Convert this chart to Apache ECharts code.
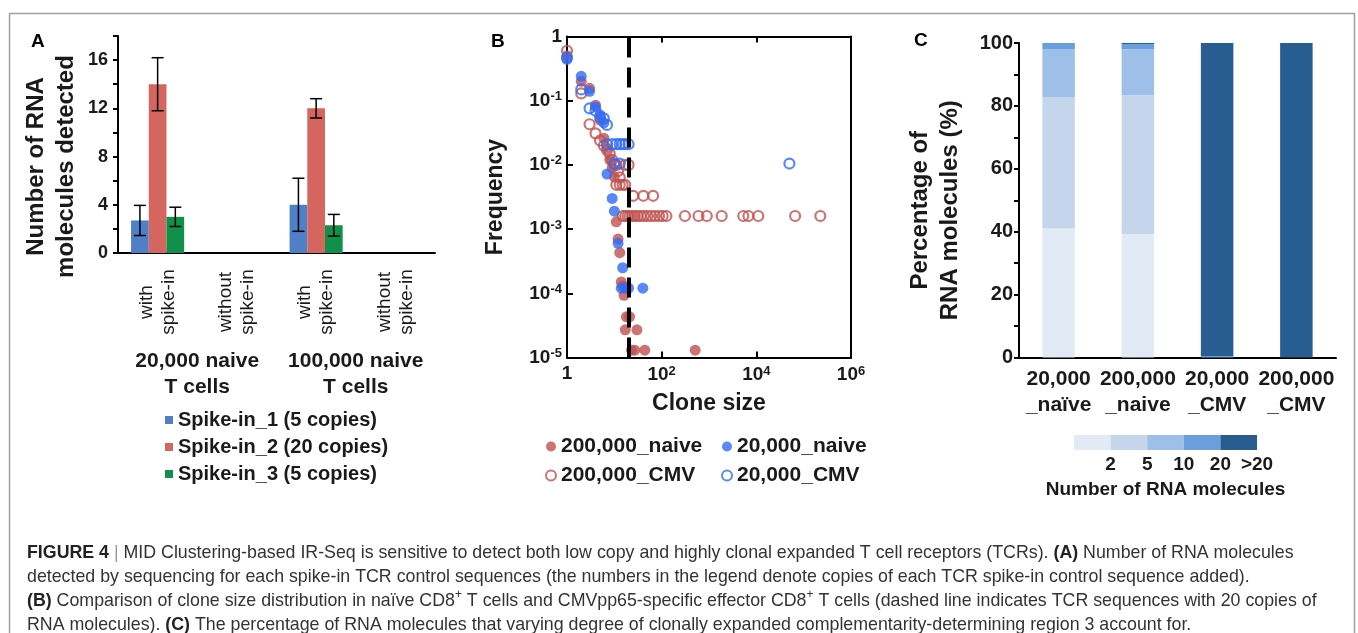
<!DOCTYPE html>
<html>
<head>
<meta charset="utf-8">
<script src="https://cdn.jsdelivr.net/npm/echarts@6/dist/echarts.min.js"></script>
<style>
html, body { margin: 0; padding: 0; background: #fff; }
#chart { width: 1358px; height: 633px; }
</style>
</head>
<body>
<div id="chart"></div>
<script>
var FONT = "'Liberation Sans', Arial, sans-serif";
var CAPTION_FONT = "'Liberation Sans Narrow', 'Liberation Sans', sans-serif";

// ---- panel A: spike-in counts ----
var spikeCats = ['with\nspike-in', 'without\nspike-in', 'with\nspike-in', 'without\nspike-in'];
var cellGroups = ['20,000 naive\nT cells', '100,000 naive\nT cells'];
var spikeNames = ['Spike-in_1 (5 copies)', 'Spike-in_2 (20 copies)', 'Spike-in_3 (5 copies)'];
var spike1 = [2.7, 0, 4.0, 0];
var spike2 = [14.0, 0, 12.0, 0];
var spike3 = [3.0, 0, 2.3, 0];
var spike1Err = [1.25, 0, 2.2, 0];
var spike2Err = [2.2, 0, 0.8, 0];
var spike3Err = [0.8, 0, 0.9, 0];
var spikeColors = ['#4f7fc6', '#d4665f', '#10904a'];

// ---- panel B: clone size vs frequency ----
var naive200 = [[1, 0.5], [2, 0.2], [3, 0.156], [4, 0.085], [5, 0.05], [6, 0.026], [7, 0.018],
  [8, 0.012], [9, 0.009], [10, 0.0065], [11, 0.0013], [12, 0.0007], [13, 0.00043], [14, 0.00015],
  [15, 0.00013], [16, 0.000093], [18, 0.000043], [21, 0.000043], [17, 0.000027], [30, 0.000027],
  [23, 0.000013], [27, 0.000013], [44, 0.000013], [510, 0.000013]];
var naive20 = [[1, 0.44], [2, 0.24], [3, 0.14], [4, 0.08], [5, 0.06], [6, 0.045], [7, 0.0072],
  [9, 0.003], [10, 0.0019], [12, 0.0006], [15, 0.00025], [14, 0.00012], [17, 0.00012],
  [20, 0.00012], [40, 0.00012]];
var cmv200 = [[1, 0.6], [2, 0.13], [3, 0.043], [4, 0.031], [5, 0.024], [6, 0.02], [7, 0.017],
  [8, 0.015], [9, 0.012], [10, 0.01], [11, 0.01], [17, 0.01], [20, 0.01], [12, 0.008],
  [13, 0.0064], [11, 0.0049], [13, 0.0049], [15, 0.0049], [17, 0.0049],
  [25, 0.0033], [41, 0.0033], [66, 0.0033],
  [15, 0.0016], [17, 0.0016], [19, 0.0016], [21, 0.0016], [24, 0.0016], [27, 0.0016],
  [31, 0.0016], [36, 0.0016], [42, 0.0016], [50, 0.0016], [60, 0.0016], [72, 0.0016],
  [88, 0.0016], [105, 0.0016], [126, 0.0016], [310, 0.0016], [600, 0.0016], [900, 0.0016],
  [1850, 0.0016], [5300, 0.0016], [6800, 0.0016], [11000, 0.0016], [66000, 0.0016],
  [225000, 0.0016]];
var cmv20 = [[1, 0.47], [2, 0.15], [3, 0.076], [4, 0.07], [5, 0.055], [6, 0.053], [7, 0.042],
  [7, 0.021], [9, 0.021], [11, 0.021], [13, 0.021], [15, 0.021], [17, 0.021], [20, 0.021],
  [10, 0.0105], [13, 0.0105], [50000, 0.0105]];
var cutoff = 20;
var cloneRed = '#c0504d';
var cloneBlue = '#2f6cf5';

// ---- panel C: percentage stacks ----
var sampleCats = ['20,000\n_naïve', '200,000\n_naive', '20,000\n_CMV', '200,000\n_CMV'];
var bins = ['2', '5', '10', '20', '>20'];
var pct2 = [41.0, 39.3, 0, 0];
var pct5 = [41.8, 44.1, 0, 0];
var pct10 = [15.3, 14.6, 0, 0];
var pct20 = [1.9, 1.6, 0.5, 0];
var pctOver20 = [0, 0.4, 99.5, 100];
var binColors = ['#e2eaf5', '#c5d6ec', '#9ec0e8', '#6a9edc', '#285d91'];

var bold = { fontFamily: FONT, fontWeight: 'bold', color: '#1a1a1a' };

function errorBars(offset) {
  return function (params, api) {
    var err = api.value(2);
    if (!err) return;
    var mid = api.value(1);
    var bw = api.size([1, 0])[0] * 0.67 / 3;
    var hi = api.coord([api.value(0), mid + err]);
    var lo = api.coord([api.value(0), mid - err]);
    var x = hi[0] + offset * bw;
    var st = { stroke: '#000', lineWidth: 1.5 };
    return {
      type: 'group',
      children: [
        { type: 'line', shape: { x1: x, y1: hi[1], x2: x, y2: lo[1] }, style: st },
        { type: 'line', shape: { x1: x - 6, y1: hi[1], x2: x + 6, y2: hi[1] }, style: st },
        { type: 'line', shape: { x1: x - 6, y1: lo[1], x2: x + 6, y2: lo[1] }, style: st }
      ]
    };
  };
}

function powLabel(v) {
  var e = Math.round(Math.log(v) / Math.LN10);
  if (e === 0) return '1';
  return '{b|10}{s|' + e + '}';
}
var powRich = {
  b: { fontFamily: FONT, fontWeight: 'bold', fontSize: 19, color: '#1a1a1a' },
  s: { fontFamily: FONT, fontWeight: 'bold', fontSize: 13, color: '#1a1a1a', verticalAlign: 'top', padding: [0, 0, 8, 0] }
};

var blackLine = { show: true, lineStyle: { color: '#000', width: 2 } };

var series = [];
[spike1, spike2, spike3].forEach(function (vals, i) {
  series.push({
    name: spikeNames[i], type: 'bar', xAxisIndex: 0, yAxisIndex: 0,
    data: vals, barGap: '0%', barCategoryGap: '33%',
    itemStyle: { color: spikeColors[i] }
  });
});
[[spike1, spike1Err], [spike2, spike2Err], [spike3, spike3Err]].forEach(function (p, i) {
  series.push({
    type: 'custom', xAxisIndex: 0, yAxisIndex: 0, z: 5, silent: true,
    renderItem: errorBars(i - 1),
    data: p[0].map(function (v, j) { return [j, v, p[1][j]]; })
  });
});

function cloneSeries(name, data, color, hollow) {
  return {
    name: name, type: 'scatter', xAxisIndex: 2, yAxisIndex: 1, data: data,
    symbolSize: hollow ? 10 : 11,
    itemStyle: hollow
      ? { color: 'rgba(255,255,255,0)', borderColor: color, borderWidth: 2.2 }
      : { color: color }
  };
}
series.push(cloneSeries('200,000_CMV', cmv200, cloneRed, true));
series.push(cloneSeries('200,000_naive', naive200, cloneRed, false));
series.push(cloneSeries('20,000_naive', naive20, cloneBlue, false));
var cmv20Series = cloneSeries('20,000_CMV', cmv20, cloneBlue, true);
cmv20Series.markLine = {
  silent: true, symbol: 'none', label: { show: false },
  lineStyle: { color: '#000', width: 4, type: [20, 10] },
  data: [{ xAxis: cutoff }]
};
series.push(cmv20Series);

[pct2, pct5, pct10, pct20, pctOver20].forEach(function (vals, i) {
  series.push({
    name: bins[i], type: 'bar', stack: 'pct', xAxisIndex: 4, yAxisIndex: 3,
    data: vals, barWidth: '41%', itemStyle: { color: binColors[i] }
  });
});
bins.forEach(function (b, i) {
  series.push({
    name: 'key ' + b, type: 'bar', stack: 'key', xAxisIndex: 5, yAxisIndex: 4,
    data: [1], barWidth: '100%', silent: true, itemStyle: { color: binColors[i] }
  });
});

var letterStyle = { fontFamily: FONT, fontWeight: 'bold', fontSize: 19, color: '#000' };

var option = {
  animation: false,
  backgroundColor: '#fff',
  title: [
    { text: 'A', left: 26, top: 27, textStyle: letterStyle },
    { text: 'B', left: 486, top: 27, textStyle: letterStyle },
    { text: 'C', left: 909, top: 26, textStyle: letterStyle },
    {
      left: 22, top: 536,
      text: '{b|FIGURE 4} {g||} MID Clustering-based IR-Seq is sensitive to detect both low copy and highly clonal expanded T cell receptors (TCRs). {b|(A)} Number of RNA molecules\n' +
        'detected by sequencing for each spike-in TCR control sequences (the numbers in the legend denote copies of each TCR spike-in control sequence added).\n' +
        '{b|(B)} Comparison of clone size distribution in naïve CD8{s|+} T cells and CMVpp65-specific effector CD8{s|+} T cells (dashed line indicates TCR sequences with 20 copies of\n' +
        'RNA molecules). {b|(C)} The percentage of RNA molecules that varying degree of clonally expanded complementarity-determining region 3 account for.',
      textStyle: {
        fontFamily: CAPTION_FONT, fontWeight: 'normal', fontSize: 17.8, color: '#333', lineHeight: 24,
        rich: {
          b: { fontFamily: CAPTION_FONT, fontWeight: 'bold', fontSize: 17.8, color: '#222', lineHeight: 24 },
          g: { fontFamily: CAPTION_FONT, fontWeight: 'normal', fontSize: 17.8, color: '#999', lineHeight: 24 },
          s: { fontFamily: CAPTION_FONT, fontWeight: 'normal', fontSize: 12, color: '#333', verticalAlign: 'top', lineHeight: 24, padding: [0, 0, 10, 0] }
        }
      }
    }
  ],
  graphic: [{
    type: 'rect', silent: true, z: -1,
    shape: { x: 9.5, y: 13.5, width: 1345, height: 700 },
    style: { fill: null, stroke: '#a0a0a0', lineWidth: 1.5 }
  }],
  legend: [
    {
      data: spikeNames, orient: 'vertical', left: 160, top: 405, itemWidth: 8, itemHeight: 8,
      itemGap: 7, icon: 'rect', textStyle: Object.assign({ fontSize: 20 }, bold)
    },
    {
      data: ['200,000_naive', '200,000_CMV'], orient: 'vertical', left: 540, top: 431,
      itemWidth: 10, itemHeight: 10, itemGap: 8, textStyle: Object.assign({ fontSize: 21 }, bold)
    },
    {
      data: ['20,000_naive', '20,000_CMV'], orient: 'vertical', left: 716, top: 431,
      itemWidth: 10, itemHeight: 10, itemGap: 8, textStyle: Object.assign({ fontSize: 21 }, bold)
    }
  ],
  grid: [
    { left: 118, top: 36, width: 317, height: 217 },
    { left: 567, top: 36.5, width: 284, height: 321 },
    { left: 1019, top: 43, width: 317, height: 314.5 },
    { left: 1074, top: 435, width: 183, height: 15 }
  ],
  xAxis: [
    {
      type: 'category', gridIndex: 0, data: spikeCats,
      axisLine: blackLine, axisTick: { length: 6, lineStyle: { color: '#000', width: 2 } },
      axisLabel: {
        interval: 0, rotate: 90, align: 'center', verticalAlign: 'middle', margin: 49,
        fontFamily: FONT, fontSize: 19, lineHeight: 22, color: '#1a1a1a'
      }
    },
    {
      type: 'category', gridIndex: 0, data: cellGroups, position: 'bottom',
      axisLine: { show: false }, axisTick: { length: 106, lineStyle: { color: '#000', width: 2 } },
      axisLabel: Object.assign({ interval: 0, margin: 95, fontSize: 21, lineHeight: 26 }, bold)
    },
    {
      type: 'log', gridIndex: 1, logBase: 10, min: 1, max: 1000000, interval: 2,
      axisLine: blackLine, axisTick: { inside: true, length: 6, lineStyle: { color: '#000', width: 2 } },
      splitLine: { show: false },
      axisLabel: { margin: 7, formatter: powLabel, rich: powRich, fontFamily: FONT, fontWeight: 'bold', fontSize: 19, color: '#1a1a1a' },
      name: 'Clone size', nameLocation: 'middle', nameGap: 35,
      nameTextStyle: Object.assign({ fontSize: 23 }, bold)
    },
    {
      type: 'log', gridIndex: 1, logBase: 10, min: 1, max: 1000000, interval: 2, position: 'top',
      axisLine: blackLine, axisTick: { inside: true, length: 6, lineStyle: { color: '#000', width: 2 } },
      splitLine: { show: false }, axisLabel: { show: false }
    },
    {
      type: 'category', gridIndex: 2, data: sampleCats,
      axisLine: blackLine, axisTick: { length: 5, lineStyle: { color: '#000', width: 2 } },
      axisLabel: Object.assign({ interval: 0, margin: 9, fontSize: 21, lineHeight: 26 }, bold)
    },
    {
      type: 'value', gridIndex: 3, min: 0, max: 5, interval: 1,
      axisLine: { show: false }, axisTick: { show: false }, splitLine: { show: false },
      axisLabel: Object.assign({
        margin: 5, fontSize: 19,
        formatter: function (v) { return v > 0 ? bins[v - 1] : ''; }
      }, bold),
      name: 'Number of RNA molecules', nameLocation: 'middle', nameGap: 30,
      nameTextStyle: Object.assign({ fontSize: 19 }, bold)
    }
  ],
  yAxis: [
    {
      type: 'value', gridIndex: 0, min: 0, max: 18, interval: 2,
      axisLine: blackLine, axisTick: { show: true, length: 5, lineStyle: { color: '#000', width: 2 } },
      splitLine: { show: false },
      axisLabel: Object.assign({
        margin: 10, fontSize: 18,
        formatter: function (v) { return v % 4 === 0 ? v : ''; }
      }, bold),
      name: 'Number of RNA\nmolecules detected', nameLocation: 'middle', nameGap: 37,
      nameTextStyle: Object.assign({ fontSize: 24, lineHeight: 30, padding: [0, 44, 0, 0] }, bold)
    },
    {
      type: 'log', gridIndex: 1, logBase: 10, min: 0.00001, max: 1, interval: 1,
      axisLine: blackLine, axisTick: { inside: true, length: 6, lineStyle: { color: '#000', width: 2 } },
      splitLine: { show: false },
      axisLabel: { margin: 5, formatter: powLabel, rich: powRich, fontFamily: FONT, fontWeight: 'bold', fontSize: 19, color: '#1a1a1a' },
      name: 'Frequency', nameLocation: 'middle', nameGap: 60,
      nameTextStyle: Object.assign({ fontSize: 23 }, bold)
    },
    {
      type: 'log', gridIndex: 1, logBase: 10, min: 0.00001, max: 1, position: 'right',
      axisLine: blackLine, axisTick: { show: false }, axisLabel: { show: false }, splitLine: { show: false }
    },
    {
      type: 'value', gridIndex: 2, min: 0, max: 100, interval: 10,
      axisLine: blackLine, axisTick: { show: true, length: 5, lineStyle: { color: '#000', width: 2 } },
      splitLine: { show: false },
      axisLabel: Object.assign({
        margin: 6, fontSize: 20,
        formatter: function (v) { return v % 20 === 0 ? v : ''; }
      }, bold),
      name: 'Percentage of\nRNA molecules (%)', nameLocation: 'middle', nameGap: 54,
      nameTextStyle: Object.assign({ fontSize: 24, lineHeight: 30, padding: [0, 20, 0, 0] }, bold)
    },
    {
      type: 'category', gridIndex: 3, data: ['key'], show: false
    }
  ],
  series: series
};

var chart = echarts.init(document.getElementById('chart'));
chart.setOption(option);
</script>
</body>
</html>
